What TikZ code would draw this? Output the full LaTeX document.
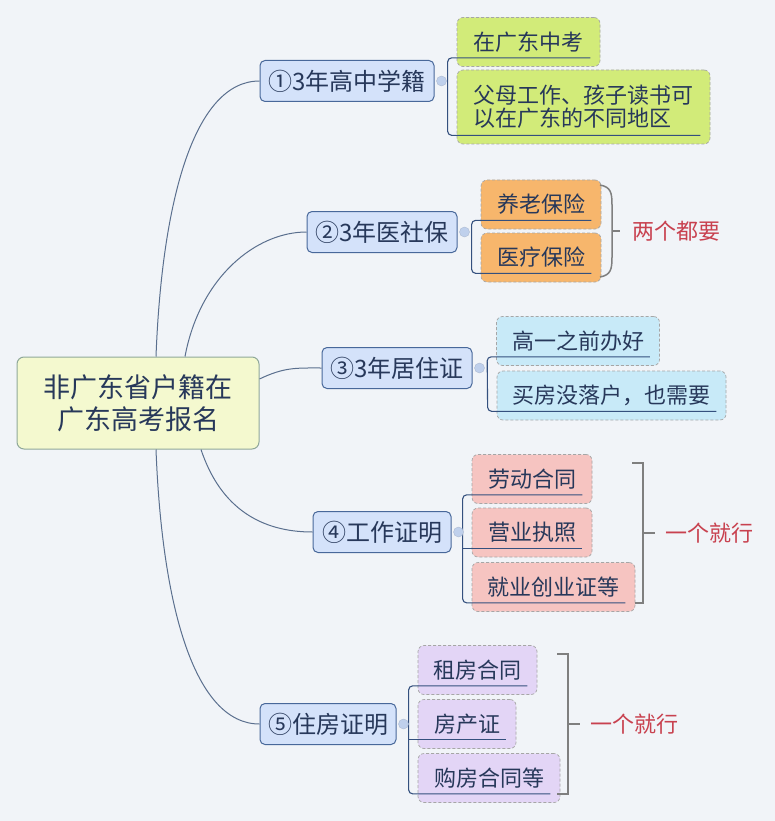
\documentclass[tikz,border=0pt]{standalone}
\usepackage{fontspec}
\setmainfont{Noto Sans CJK SC}
\definecolor{bg}{HTML}{F1F4F8}
\definecolor{txt}{HTML}{27385A}
\definecolor{rootfill}{HTML}{F4F9CF}
\definecolor{rootline}{HTML}{8FA89A}
\definecolor{brfill}{HTML}{D4E2FA}
\definecolor{brline}{HTML}{48689A}
\definecolor{ulc}{HTML}{34507E}
\definecolor{linkc}{HTML}{5A6F8E}
\definecolor{green1}{HTML}{D2EB79}
\definecolor{orange1}{HTML}{F7B66C}
\definecolor{blue1}{HTML}{C8EAF8}
\definecolor{pink1}{HTML}{F6C4C1}
\definecolor{purple1}{HTML}{E3D5F6}
\definecolor{notec}{HTML}{C8414F}
\definecolor{brk}{HTML}{7F7F7F}
\begin{document}
\begin{tikzpicture}[x=1pt,y=-1pt,
    root/.style={draw=rootline,fill=rootfill,line width=1pt,rounded corners=7pt,
      text=txt,align=center,minimum width=242pt,minimum height=92pt,
      font=\fontsize{27}{32}\selectfont},
    topic/.style={draw=brline,fill=brfill,line width=1pt,rounded corners=5pt,
      text=txt,minimum height=41pt,inner xsep=3pt,font=\fontsize{24}{28}\selectfont},
    leaf/.style={draw=gray!70,densely dashed,line width=0.7pt,fill=#1,
      rounded corners=6pt,text=txt,minimum height=49pt,font=\fontsize{22}{23}\selectfont},
    link/.style={draw=linkc,line width=1pt},
    uline/.style={draw=ulc,line width=1.1pt,rounded corners=4pt},
    knob/.style={circle,draw=brline!45,fill=brfill!85!brline,minimum size=10pt,inner sep=0pt},
    brkt/.style={draw=brk,line width=1.5pt},
    note/.style={text=notec,font=\fontsize{22}{26}\selectfont}]
  \useasboundingbox[fill=bg] (0,0) rectangle (775,821);

  % centre and main topics
  \node[root] (root) at (138,403) {非广东省户籍在\\广东高考报名};
  \node[topic,minimum width=174pt] (t1) at (347,81) {①3年高中学籍};
  \node[topic,minimum width=150pt] (t2) at (382,232) {②3年医社保};
  \node[topic,minimum width=150pt] (t3) at (397,368) {③3年居住证};
  \node[topic,minimum width=138pt] (t4) at (382,532) {④工作证明};
  \node[topic,minimum width=136pt] (t5) at (328,724) {⑤住房证明};

  \draw[link] ([xshift=18pt]root.north) .. controls +(6,-157) and +(-65,0) .. (t1.west);
  \draw[link] ([xshift=47pt]root.north) .. controls +(15,-80) and +(-50,0) .. (t2.west);
  \draw[link] ([yshift=24pt]root.east) .. controls +(25,-12) and +(-25,0) .. (t3.west);
  \draw[link] ([xshift=63pt]root.south) .. controls +(20,60) and +(-50,0) .. (t4.west);
  \draw[link] ([xshift=18pt]root.south) .. controls +(6,157) and +(-65,0) .. (t5.west);

  % subtopics
  \node[leaf=green1,minimum width=143pt] (s1a) at (528.5,42) {在广东中考};
  \node[leaf=green1,minimum width=253pt,minimum height=74pt,align=left] (s1b) at (583.5,107)
    {父母工作、孩子读书可\\以在广东的不同地区};
  \node[leaf=orange1,minimum width=120pt] (s2a) at (541,204.5) {养老保险};
  \node[leaf=orange1,minimum width=120pt] (s2b) at (541,257.5) {医疗保险};
  \node[leaf=blue1,minimum width=163pt] (s3a) at (578,341) {高一之前办好};
  \node[leaf=blue1,minimum width=229pt] (s3b) at (611.5,395.5) {买房没落户，也需要};
  \node[leaf=pink1,minimum width=120pt] (s4a) at (532,479) {劳动合同};
  \node[leaf=pink1,minimum width=120pt] (s4b) at (532,532.5) {营业执照};
  \node[leaf=pink1,minimum width=163pt] (s4c) at (553.5,587) {就业创业证等};
  \node[leaf=purple1,minimum width=119pt] (s5a) at (477.5,670) {租房合同};
  \node[leaf=purple1,minimum width=98pt] (s5b) at (467,724) {房产证};
  \node[leaf=purple1,minimum width=142pt] (s5c) at (489,778) {购房合同等};

  % underlines and spines
  \draw[uline] ([shift={(-10,-9)}]s1a.south east) -- ([shift={(-9,-9)}]s1a.south west)
    -- ([shift={(-9,-9)}]s1b.south west) -- ([shift={(-10,-9)}]s1b.south east);
  \draw[uline] ([shift={(-10,-9)}]s2a.south east) -- ([shift={(-9,-9)}]s2a.south west)
    -- ([shift={(-9,-9)}]s2b.south west) -- ([shift={(-10,-9)}]s2b.south east);
  \draw[uline] ([shift={(-10,-9)}]s3a.south east) -- ([shift={(-9,-9)}]s3a.south west)
    -- ([shift={(-9,-9)}]s3b.south west) -- ([shift={(-10,-9)}]s3b.south east);
  \draw[uline] ([shift={(-10,-9)}]s4a.south east) -- ([shift={(-9,-9)}]s4a.south west)
    -- ([shift={(-9,-9)}]s4c.south west) -- ([shift={(-10,-9)}]s4c.south east);
  \draw[uline] ([shift={(-9,-9)}]s4b.south west) -- ([shift={(-10,-9)}]s4b.south east);
  \draw[uline] ([shift={(-10,-9)}]s5a.south east) -- ([shift={(-9,-9)}]s5a.south west)
    -- ([shift={(-9,-9)}]s5c.south west) -- ([shift={(-10,-9)}]s5c.south east);
  \draw[uline] ([shift={(-9,-9)}]s5b.south west) -- ([shift={(-10,-9)}]s5b.south east);

  \node[knob] (k1) at ([xshift=7pt]t1.east) {};
  \node[knob] (k2) at ([xshift=7pt]t2.east) {};
  \node[knob] (k3) at ([xshift=7pt]t3.east) {};
  \node[knob] (k4) at ([xshift=7pt]t4.east) {};
  \node[knob] (k5) at ([xshift=7pt]t5.east) {};

  % brackets and notes
  \draw[brkt] (600,185) .. controls (611,187) and (612,193) .. (612,205)
    -- (612,257) .. controls (612,269) and (611,275) .. (600,277);
  \draw[brkt] (612,231) -- (620,231);
  \node[note] (n2) at (676,231) {两个都要};

  \draw[brkt] (632,463) -- (643,463) -- (643,603) -- (635,603);
  \draw[brkt] (643,533) -- (655,533);
  \node[note] (n4) at (709,533) {一个就行};

  \draw[brkt] (557,654) -- (568,654) -- (568,794) -- (557,794);
  \draw[brkt] (568,724) -- (580,724);
  \node[note] (n5) at (634,724) {一个就行};
\end{tikzpicture}
\end{document}
